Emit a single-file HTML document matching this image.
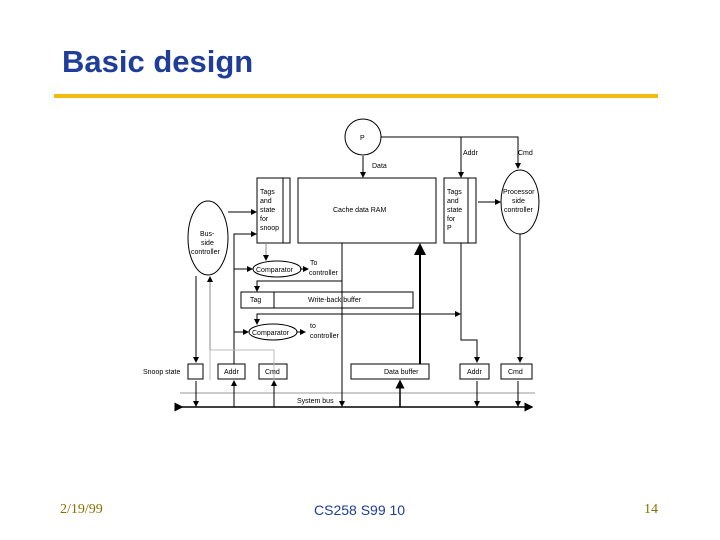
<!DOCTYPE html>
<html><head><style>
body{margin:0;width:720px;height:540px;background:#fff;position:relative;overflow:hidden;font-family:"Liberation Sans",sans-serif}
.t{position:absolute;left:62px;top:44px;font-size:31px;font-weight:bold;color:#1f3d99}
.bar{position:absolute;left:54px;top:94px;width:604px;height:4px;background:#f2bb0f}
.f{position:absolute;top:502px;font-size:14px;color:#8a6d00}
</style></head><body>
<div class="t">Basic design</div>
<div class="bar"></div>
<div class="f" style="left:60px;font-family:'Liberation Serif',serif;">2/19/99</div>
<div class="f" style="left:314px;color:#1f3d99;font-size:14px">CS258 S99 10</div>
<div class="f" style="left:644px;font-family:'Liberation Serif',serif;">14</div>
<svg width="720" height="540" style="position:absolute;left:0;top:0" font-family="Liberation Sans,sans-serif" font-size="7" fill="none" stroke="#000">
<defs><marker id="a" markerWidth="6" markerHeight="6" refX="5" refY="3" orient="auto"><path d="M0,0L6,3L0,6z" fill="#000" stroke="none"/></marker></defs>
<g stroke-width="1">
<circle cx="363" cy="137" r="18"/>
<rect x="298" y="178" width="138" height="65"/>
<rect x="257" y="178" width="33" height="65"/><line x1="283" y1="178" x2="283" y2="243"/>
<rect x="444" y="178" width="32" height="65"/><line x1="468" y1="178" x2="468" y2="243"/>
<ellipse cx="520" cy="202" rx="19" ry="32"/>
<ellipse cx="208" cy="238" rx="20" ry="37"/>
<ellipse cx="277" cy="269" rx="24" ry="8"/>
<ellipse cx="273" cy="332" rx="24" ry="8"/>
<rect x="241" y="292" width="172" height="16"/><line x1="274" y1="292" x2="274" y2="308"/>
<rect x="188" y="364" width="15" height="15"/>
<rect x="218" y="364" width="27" height="15"/>
<rect x="259" y="364" width="28" height="15"/>
<rect x="351" y="364" width="78" height="15"/>
<rect x="460" y="364" width="29" height="15"/>
<rect x="501" y="364" width="31" height="15"/>
<line x1="180" y1="393" x2="535" y2="393" stroke="#999"/>
<line x1="182" y1="407" x2="532" y2="407" stroke-width="1.5" marker-end="url(#a)" marker-start="url(#a)"/>
<line x1="363" y1="156" x2="363" y2="177" marker-end="url(#a)"/>
<polyline points="381,137 518,137 518,168" marker-end="url(#a)"/>
<line x1="461" y1="137" x2="461" y2="177" marker-end="url(#a)"/>
<line x1="478" y1="202" x2="500" y2="202" marker-end="url(#a)"/>
<line x1="228" y1="212" x2="256" y2="212" marker-end="url(#a)"/>
<polyline points="234,364 234,234 256,234" marker-end="url(#a)"/>
<line x1="234" y1="269" x2="252" y2="269" marker-end="url(#a)"/>
<line x1="234" y1="332" x2="248" y2="332" marker-end="url(#a)"/>
<line x1="266" y1="243" x2="266" y2="260" stroke="#888" marker-end="url(#a)"/>
<line x1="342" y1="243" x2="342" y2="406" marker-end="url(#a)"/>
<polyline points="342,281 257,281 257,291" marker-end="url(#a)"/>
<polyline points="342,314 257,314 257,324" marker-end="url(#a)"/>
<polyline points="342,314 460,314" marker-end="url(#a)"/>
<line x1="420" y1="364" x2="420" y2="245" stroke-width="2" marker-end="url(#a)"/>
<line x1="400" y1="407" x2="400" y2="381" stroke-width="1.5" marker-end="url(#a)"/>
<polyline points="461,243 461,340 477,340 477,362" marker-end="url(#a)"/>
<line x1="520" y1="234" x2="520" y2="362" marker-end="url(#a)"/>
<polyline points="196,276 196,348 196,362" marker-end="url(#a)"/>
<line x1="196" y1="381" x2="196" y2="406" marker-end="url(#a)"/>
<polyline points="210,380 210,350 274,350 274,380" stroke="#bbb"/>
<line x1="210" y1="350" x2="210" y2="277" stroke="#888" marker-end="url(#a)"/>
<line x1="234" y1="407" x2="234" y2="381" marker-end="url(#a)"/>
<line x1="274" y1="407" x2="274" y2="381" marker-end="url(#a)"/>
<line x1="477" y1="381" x2="477" y2="406" marker-end="url(#a)"/>
<line x1="518" y1="381" x2="518" y2="406" marker-end="url(#a)"/>
<line x1="300" y1="269" x2="308" y2="269" marker-end="url(#a)"/>
<line x1="297" y1="332" x2="305" y2="332" marker-end="url(#a)"/>
</g>
<g fill="#000" stroke="none">
<text x="360" y="140">P</text>
<text x="372" y="168">Data</text>
<text x="463" y="155">Addr</text>
<text x="518" y="155">Cmd</text>
<text x="333" y="212">Cache data RAM</text>
<text x="260" y="194">Tags</text><text x="260" y="203">and</text><text x="260" y="212">state</text><text x="260" y="221">for</text><text x="260" y="230">snoop</text>
<text x="447" y="194">Tags</text><text x="447" y="203">and</text><text x="447" y="212">state</text><text x="447" y="221">for</text><text x="447" y="230">P</text>
<text x="503" y="194">Processor</text><text x="512" y="203">side</text><text x="504" y="212">controller</text>
<text x="200" y="236">Bus-</text><text x="201" y="245">side</text><text x="191" y="254">controller</text>
<text x="256" y="272">Comparator</text><text x="252" y="335">Comparator</text>
<text x="310" y="265">To</text><text x="309" y="275">controller</text>
<text x="310" y="328">to</text><text x="310" y="338">controller</text>
<text x="250" y="302">Tag</text><text x="308" y="302">Write-back buffer</text>
<text x="143" y="374">Snoop state</text>
<text x="224" y="374">Addr</text><text x="265" y="374">Cmd</text>
<text x="384" y="374">Data buffer</text>
<text x="467" y="374">Addr</text><text x="508" y="374">Cmd</text>
<text x="297" y="403">System bus</text>
</g>
</svg>
</body></html>
